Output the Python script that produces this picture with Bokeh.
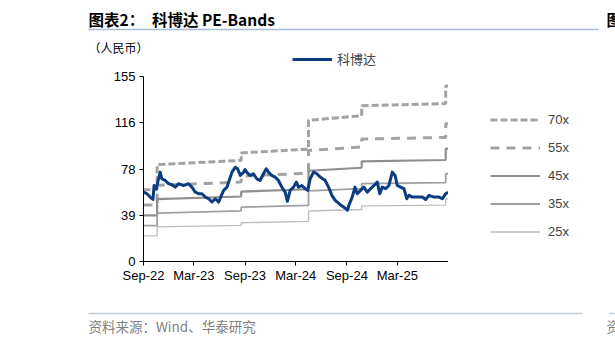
import pandas as pd
from bokeh.plotting import figure
from bokeh.layouts import column, row
from bokeh.models import Range1d, FixedTicker, Legend, LegendItem
from bokeh.core.properties import value
from bokeh.embed import file_html
from bokeh.resources import INLINE

# ---------------- data ----------------
price_dates = [
    "2022-09-01", "2022-09-13", "2022-09-25", "2022-10-05", "2022-10-09", "2022-10-17",
    "2022-10-25", "2022-10-31", "2022-11-06", "2022-11-18", "2022-11-30", "2022-12-12",
    "2022-12-24", "2023-01-05", "2023-01-23", "2023-02-10", "2023-02-22", "2023-03-06",
    "2023-03-18", "2023-03-30", "2023-04-11", "2023-04-23", "2023-05-05", "2023-05-17",
    "2023-05-29", "2023-06-08", "2023-06-16", "2023-06-28", "2023-07-08", "2023-07-16",
    "2023-07-28", "2023-08-05", "2023-08-15", "2023-08-27", "2023-09-01", "2023-09-07",
    "2023-09-19", "2023-10-01", "2023-10-13", "2023-10-25", "2023-11-06", "2023-11-16",
    "2023-11-24", "2023-12-06", "2023-12-18", "2023-12-30", "2024-01-11", "2024-01-23",
    "2024-01-31", "2024-02-10", "2024-02-22", "2024-03-03", "2024-03-11", "2024-03-23",
    "2024-04-04", "2024-04-13", "2024-04-22", "2024-05-04", "2024-05-16", "2024-05-28",
    "2024-06-15", "2024-06-27", "2024-07-09", "2024-07-21", "2024-08-08", "2024-08-20",
    "2024-08-28", "2024-09-03", "2024-09-08", "2024-09-20", "2024-09-30", "2024-10-08",
    "2024-10-20", "2024-11-01", "2024-11-13", "2024-11-25", "2024-12-07", "2024-12-19",
    "2024-12-28", "2025-01-06", "2025-01-18", "2025-01-30", "2025-02-11", "2025-02-21",
    "2025-03-01", "2025-03-13", "2025-03-25", "2025-04-04", "2025-04-12", "2025-04-24",
    "2025-05-12", "2025-05-30", "2025-06-11", "2025-06-23", "2025-07-11", "2025-07-29",
    "2025-08-10", "2025-08-22", "2025-08-31",
]
price_values = [
    58.1, 56.8, 54.0, 52.0, 63.7, 61.0,
    69.3, 74.9, 69.3, 67.9, 65.2, 64.3,
    62.3, 65.2, 63.7, 65.2, 62.3, 58.1,
    56.8, 56.8, 54.0, 52.6, 49.8, 52.6,
    49.8, 55.4, 59.6, 62.3, 69.3, 74.9,
    79.0, 77.7, 72.1, 74.9, 77.0, 74.9,
    72.1, 73.5, 69.3, 67.9, 73.5, 77.7,
    74.9, 72.1, 70.7, 67.9, 62.3, 58.1,
    50.4, 59.6, 62.3, 66.5, 62.3, 63.7,
    61.0, 59.6, 69.3, 74.9, 73.5, 70.7,
    67.9, 62.3, 55.4, 51.2, 47.6, 45.6,
    44.3, 42.9, 47.0, 54.0, 62.3, 56.8,
    59.6, 62.3, 58.1, 61.0, 63.7, 66.5,
    56.8, 62.3, 61.0, 63.7, 74.9, 72.1,
    63.7, 62.3, 61.0, 52.6, 55.4, 54.0,
    54.0, 54.0, 52.0, 55.4, 54.0, 54.0,
    52.6, 56.8, 58.1,
]

eps_dates = [
    "2022-09-01", "2022-10-20", "2022-10-20", "2023-08-18", "2023-08-18", "2024-04-16",
    "2024-04-16", "2024-10-24", "2024-10-24", "2025-08-22", "2025-08-22", "2025-08-31",
]
eps_values = [0.86, 0.86, 1.16, 1.21, 1.30, 1.345, 1.69, 1.745, 1.865, 1.89, 2.10, 2.10]

multiples = [70, 55, 45, 35, 25]
band_labels = ["70x", "55x", "45x", "35x", "25x"]
series_label = "科博达"

y_ticks = [0, 38.75, 77.5, 116.25, 155]
y_tick_labels = ["0", "39", "78", "116", "155"]
x_tick_dates = ["2022-09-01", "2023-03-01", "2023-09-01", "2024-03-01",
                "2024-09-01", "2025-03-01", "2025-09-01"]
x_tick_labels = ["Sep-22", "Mar-23", "Sep-23", "Mar-24", "Sep-24", "Mar-25", ""]

title_text = "图表2：　科博达 PE-Bands"
unit_text = "（人民币）"
source_text = "资料来源：Wind、华泰研究"

# ---------------- styles ----------------
band_styles = {
    70: dict(color="#A3A3A3", width=3.0, dash="7 3"),
    55: dict(color="#A3A3A3", width=3.0, dash="9 7"),
    45: dict(color="#8F8F8F", width=2.2, dash="solid"),
    35: dict(color="#A0A0A0", width=1.8, dash="solid"),
    25: dict(color="#BDBDBD", width=1.4, dash="solid"),
}
blue = "#0B3C80"
CJK = "Noto Sans CJK SC"
OFF = [-1000, -990]  # legend-sample renderers sit outside the visible range


def to_ms(s):
    return pd.Timestamp(s).value / 1e6


def blank_fig(w, h):
    f = figure(width=w, height=h, output_backend="svg", toolbar_location=None,
               x_range=Range1d(0, w), y_range=Range1d(h, 0),
               x_axis_location=None, y_axis_location=None,
               min_border=0, min_border_left=0, min_border_right=0,
               min_border_top=0, min_border_bottom=0)
    f.xgrid.visible = False
    f.ygrid.visible = False
    f.outline_line_color = None
    return f


# ---------------- top strip (title, unit, series legend) ----------------
TOP_H = 68
top = blank_fig(615, TOP_H)
top.text(x=[88], y=[18], text=[title_text], text_font=value(CJK), text_font_size="15.5px",
         text_font_style="bold", text_baseline="middle", text_color="black")
top.text(x=[606], y=[18], text=["图"], text_font=value(CJK), text_font_size="15.5px",
         text_font_style="bold", text_baseline="middle", text_color="black")
top.segment(x0=[88], y0=[29], x1=[598], y1=[29], line_color="#A8BCD6", line_width=1.5)
top.text(x=[88], y=[47], text=[unit_text], text_font=value(CJK), text_font_size="12px",
         text_baseline="middle", text_color="black")
dummy_price = top.line(x=OFF, y=OFF, line_color=blue, line_width=3)
leg_top = Legend(items=[LegendItem(label=series_label, renderers=[dummy_price])],
                 location=(292, 0), orientation="horizontal",
                 glyph_width=40, glyph_height=14, label_height=14, label_standoff=5,
                 label_text_font=CJK, label_text_font_size="13px",
                 padding=0, margin=0, border_line_color=None, background_fill_alpha=0)
top.add_layout(leg_top, "center")

# ---------------- main chart ----------------
MID_H = 232
FL, FT, FB = 143, 76 - TOP_H, 300 - 261
px = pd.to_datetime(price_dates)
ex = pd.to_datetime(eps_dates)

p = figure(width=448, height=MID_H, x_axis_type="datetime",
           output_backend="svg", toolbar_location=None,
           x_range=Range1d(to_ms("2022-09-01"), to_ms("2025-09-01")),
           y_range=Range1d(0, 155),
           min_border_left=FL, min_border_right=0,
           min_border_top=FT, min_border_bottom=FB)
p.xgrid.visible = False
p.ygrid.visible = False
p.outline_line_color = None

for m in multiples:
    st = band_styles[m]
    p.line(ex, [e * m for e in eps_values], line_color=st["color"],
           line_width=st["width"], line_dash=st["dash"])

p.line(px, price_values, line_color=blue, line_width=3, line_join="round")

for ax in (p.xaxis[0], p.yaxis[0]):
    ax.axis_line_color = "black"
    ax.axis_line_width = 1
    ax.major_tick_line_color = "black"
    ax.major_tick_out = 4
    ax.major_tick_in = 0
    ax.minor_tick_line_color = None
    ax.major_label_text_font = "Liberation Sans"
    ax.major_label_text_font_size = "13px"
    ax.major_label_text_color = "black"

p.yaxis.ticker = FixedTicker(ticks=y_ticks)
p.yaxis.major_label_overrides = {t: l for t, l in zip(y_ticks, y_tick_labels)}
p.yaxis.major_label_standoff = 4

x_ticks = [to_ms(d) for d in x_tick_dates]
p.xaxis.ticker = FixedTicker(ticks=x_ticks)
p.xaxis.major_label_overrides = {t: l for t, l in zip(x_ticks, x_tick_labels)}
p.xaxis.major_label_standoff = 2

# ---------------- right strip (band legend) ----------------
# (its frame is aligned with the main chart's frame: canvas y 76..261)
side = blank_fig(167, MID_H)
band_dummies = []
for m in multiples:
    st = band_styles[m]
    band_dummies.append(side.line(x=OFF, y=OFF, line_color=st["color"],
                                  line_width=st["width"], line_dash=st["dash"]))
leg_right = Legend(items=[LegendItem(label=l, renderers=[r]) for l, r in zip(band_labels, band_dummies)],
                   location=(42, 19), glyph_width=50, glyph_height=21, label_height=21,
                   spacing=7, label_standoff=8,
                   label_text_font="Liberation Sans", label_text_font_size="13px",
                   padding=0, margin=0, border_line_color=None, background_fill_alpha=0)
side.add_layout(leg_right, "center")

# ---------------- bottom strip (source) ----------------
BOT_H = 343 - TOP_H - MID_H
bot = blank_fig(615, BOT_H)
bot.segment(x0=[88, 609], y0=[13, 13], x1=[582, 615], y1=[13, 13],
            line_color="#BFCCDC", line_width=1.5)
bot.text(x=[88], y=[25], text=[source_text], text_font=value(CJK), text_font_size="13.5px",
         text_baseline="middle", text_color="#7F7F7F")
bot.text(x=[606], y=[25], text=["资"], text_font=value(CJK), text_font_size="13.5px",
         text_baseline="middle", text_color="#7F7F7F")

layout = column(top, row(p, side, spacing=0), bot, spacing=0)
open("out.html", "w").write(file_html(layout, INLINE))
